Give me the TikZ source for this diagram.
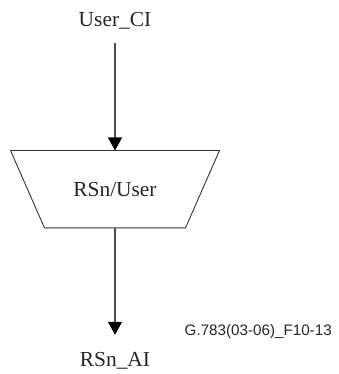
\documentclass[tikz,border=0pt]{standalone}
\usepackage{fontspec}
\setmainfont{Liberation Serif}
\newfontfamily\labelfont{Liberation Sans}
\usetikzlibrary{arrows.meta}
\begin{document}
\begin{tikzpicture}[x=1pt,y=1pt,
  txt/.style={font=\fontsize{21.4}{24}\selectfont, inner sep=0pt, text=black!85},
  conn/.style={draw=black!70, line width=1.1pt, -{Triangle[width=14pt,length=13pt,fill=black,color=black]}},
  blkstyle/.style={draw=none, minimum width=208.6pt, minimum height=77pt, inner sep=0pt, font=\fontsize{21.4}{24}\selectfont, text=black!85},
  trap/.style={draw=black!80, line width=0.9pt}]
\useasboundingbox (0,0) rectangle (338,-374);
\node[txt, anchor=base, text depth=16pt] (ci) at (115,-27) {User\_CI};
\node[blkstyle] (blk) at (115,-189.2) {RSn/User};
\draw[trap] (blk.north west) -- (blk.north east) -- ([xshift=-34pt]blk.south east) -- ([xshift=34pt]blk.south west) -- cycle;
\node[txt, anchor=base, text height=31.7pt] (ai) at (115,-366.7) {RSn\_AI};
\node[anchor=base west, inner sep=0pt, font=\labelfont\fontsize{15.2}{17}\selectfont, text=black!85] (fig) at (184.5,-335) {G.783(03-06)\_F10-13};
\draw[conn] (ci.south) -- (blk.north);
\draw[conn] (blk.south) -- (ai.north);
\end{tikzpicture}
\end{document}
